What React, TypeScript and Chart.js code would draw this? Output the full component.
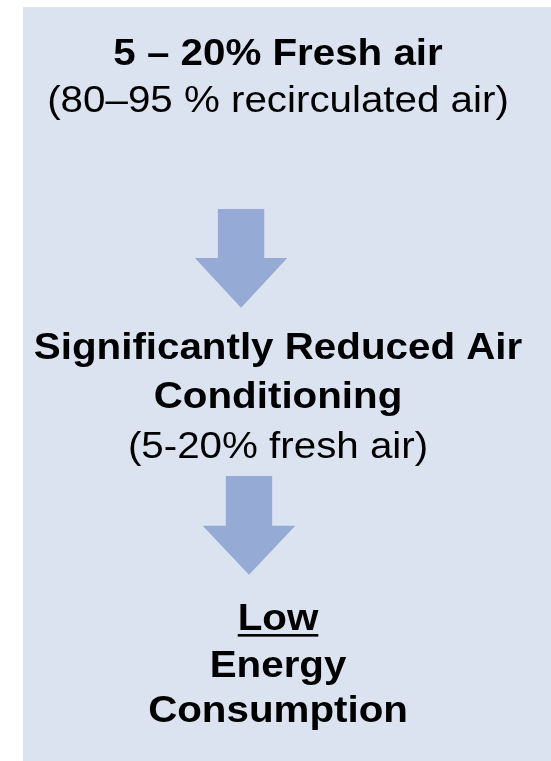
import React, { useEffect, useRef } from "react";
import { Chart, registerables } from "chart.js";

Chart.register(...registerables);

// Text lines of the diagram (top to bottom)
const lineTexts = [
  "5 – 20% Fresh air",
  "(80–95 % recirculated air)",
  "Significantly Reduced Air",
  "Conditioning",
  "(5-20% fresh air)",
  "Low",
  "Energy",
  "Consumption",
];
const lineBold = [true, false, true, true, false, true, true, true];
const lineUnderline = [false, false, false, false, false, true, false, false];
// baseline of each line on the vertical scale (0 = top of panel, 100 = bottom)
const lineLevels = [7.69, 13.93, 46.68, 53.18, 59.81, 82.63, 88.86, 94.83];
const textCenter = 48.3;

// Down arrows (scale units: x 0..100, y 0..100 top->bottom)
const arrowCenters = [41.3, 42.8];
const arrowTops = [26.8, 62.2];
const arrowHeadBases = [33.3, 68.8];
const arrowTips = [39.9, 75.3];
const arrowShaftHalf = [4.39, 4.39];
const arrowHeadHalf = [8.75, 8.77];

const PANEL_BG = "#dce3f0";
const ARROW_COLOR = "#95aad4";
const FONT_FAMILY = "'Liberation Sans', Arial, Helvetica, sans-serif";

const diagramPlugin = {
  id: "diagram",
  beforeDraw(chart: any) {
    const { ctx, chartArea } = chart;
    ctx.save();
    ctx.fillStyle = "#ffffff";
    ctx.fillRect(0, 0, chart.width, chart.height);
    ctx.fillStyle = PANEL_BG;
    ctx.fillRect(chartArea.left, chartArea.top, chartArea.right - chartArea.left, chartArea.bottom - chartArea.top);
    ctx.restore();
  },
  afterDatasetsDraw(chart: any) {
    const { ctx } = chart;
    const xs = chart.scales.x;
    const ys = chart.scales.y;
    ctx.save();
    // arrows
    ctx.fillStyle = ARROW_COLOR;
    for (let i = 0; i < arrowCenters.length; i++) {
      const cx = xs.getPixelForValue(arrowCenters[i]);
      const sl = xs.getPixelForValue(arrowCenters[i] - arrowShaftHalf[i]);
      const sr = xs.getPixelForValue(arrowCenters[i] + arrowShaftHalf[i]);
      const hl = xs.getPixelForValue(arrowCenters[i] - arrowHeadHalf[i]);
      const hr = xs.getPixelForValue(arrowCenters[i] + arrowHeadHalf[i]);
      const top = ys.getPixelForValue(arrowTops[i]);
      const base = ys.getPixelForValue(arrowHeadBases[i]);
      const tip = ys.getPixelForValue(arrowTips[i]);
      ctx.beginPath();
      ctx.moveTo(sl, top);
      ctx.lineTo(sr, top);
      ctx.lineTo(sr, base);
      ctx.lineTo(hr, base);
      ctx.lineTo(cx, tip);
      ctx.lineTo(hl, base);
      ctx.lineTo(sl, base);
      ctx.closePath();
      ctx.fill();
    }
    // text
    const stretch = 1.12;
    ctx.fillStyle = "#000000";
    ctx.strokeStyle = "#000000";
    ctx.textBaseline = "alphabetic";
    ctx.textAlign = "center";
    const cx = xs.getPixelForValue(textCenter);
    for (let i = 0; i < lineTexts.length; i++) {
      const y = ys.getPixelForValue(lineLevels[i]);
      ctx.font = `${lineBold[i] ? "bold " : ""}36px ${FONT_FAMILY}`;
      ctx.save();
      ctx.translate(cx, y);
      ctx.scale(stretch, 1);
      ctx.fillText(lineTexts[i], 0, 0);
      if (lineUnderline[i]) {
        const w = ctx.measureText(lineTexts[i]).width;
        ctx.fillRect(-w / 2, 4, w, 2.6);
      }
      ctx.restore();
    }
    ctx.restore();
  },
};

export default function App() {
  const canvasRef = useRef<HTMLCanvasElement | null>(null);

  useEffect(() => {
    document.body.style.margin = "0";
    const canvas = canvasRef.current;
    if (!canvas) return;
    const chart = new Chart(canvas, {
      type: "scatter",
      data: {
        datasets: [
          {
            label: "arrows",
            data: arrowCenters.map((x, i) => ({ x, y: arrowTips[i] })),
            pointRadius: 0,
            showLine: false,
          },
        ],
      },
      options: {
        responsive: false,
        animation: false,
        devicePixelRatio: 1,
        layout: { padding: { left: 23, top: 7, right: 0, bottom: 0 } },
        plugins: { legend: { display: false }, tooltip: { enabled: false }, title: { display: false } },
        events: [],
        scales: {
          x: { type: "linear", min: 0, max: 100, display: false },
          y: { type: "linear", min: 0, max: 100, reverse: true, display: false },
        },
      },
      plugins: [diagramPlugin],
    });
    return () => chart.destroy();
  }, []);

  return (
    <div style={{ width: 551, height: 761 }}>
      <canvas ref={canvasRef} width={551} height={761} style={{ display: "block" }} />
    </div>
  );
}
